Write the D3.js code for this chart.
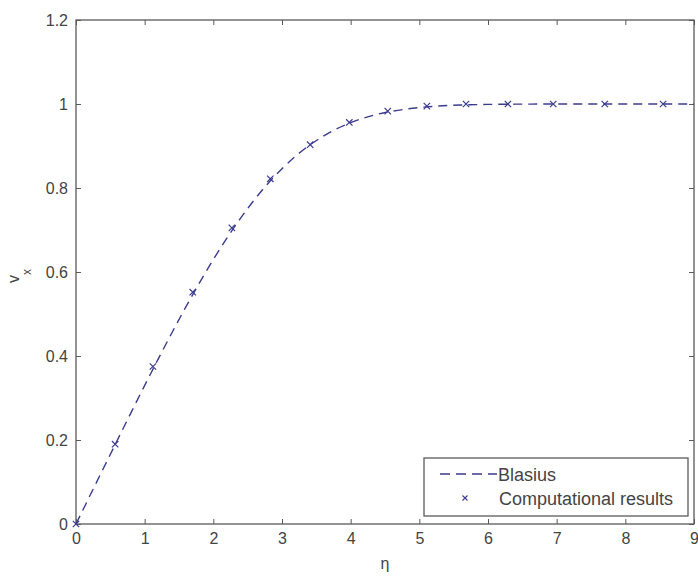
<!DOCTYPE html>
<html><head><meta charset="utf-8">
<script src="https://cdn.jsdelivr.net/npm/d3@7"></script>
<style>body{margin:0;background:#fff}svg{display:block}text{font-family:"Liberation Sans",Arial,sans-serif}</style>
</head><body><svg id="c" width="698" height="577"></svg>
<script>
// Blasius reference profile (eta, f')
const blasiusEta = [0,0.4,0.8,1.2,1.6,2.0,2.4,2.8,3.2,3.6,4.0,4.4,4.8,5.2,5.6,6.0,6.4,6.8,7.2,7.6,8.0,8.4,8.8,9.0];
const blasiusV   = [0,0.1328,0.2647,0.3938,0.5168,0.6298,0.7290,0.8115,0.8761,0.9233,0.9555,0.9759,0.9878,0.9943,0.9975,0.9990,0.9996,0.9999,1.0,1.0,1.0,1.0,1.0,1.0];
// Computational results
const compEta = [0,0.57,1.12,1.70,2.27,2.83,3.41,3.98,4.54,5.11,5.68,6.29,6.95,7.70,8.55];
const compV   = [0,0.19,0.375,0.552,0.705,0.822,0.903,0.956,0.983,0.995,1.0,1.0,1.0,1.0,1.0];
const xTicks = [0,1,2,3,4,5,6,7,8,9];
const yTicks = [0,0.2,0.4,0.6,0.8,1,1.2];

const svg = d3.select("#c");
const L=76,R=694,T=20,B=524;
const x = d3.scaleLinear().domain([0,9]).range([L,R]);
const y = d3.scaleLinear().domain([0,1.2]).range([B,T]);
const frame="#5a5a5a", txt="#444", lineC="#3b3b8f";

const fmt = d=>d3.format("")(+d.toFixed(1));
function styleAx(g){g.select(".domain").remove();g.selectAll("line").attr("stroke",frame);g.selectAll("text").attr("fill",txt).style("font-size","16px");}
svg.append("g").attr("transform",`translate(0,${B})`).call(d3.axisBottom(x).tickValues(xTicks).tickSize(-5).tickPadding(9).tickFormat(fmt)).call(styleAx);
svg.append("g").attr("transform",`translate(0,${T})`).call(d3.axisTop(x).tickValues(xTicks).tickSize(-5).tickFormat("")).call(styleAx);
svg.append("g").attr("transform",`translate(${L},0)`).call(d3.axisLeft(y).tickValues(yTicks).tickSize(-5).tickPadding(8).tickFormat(fmt)).call(styleAx);
svg.append("g").attr("transform",`translate(${R},0)`).call(d3.axisRight(y).tickValues(yTicks).tickSize(-5).tickFormat("")).call(styleAx);
svg.append("rect").attr("x",L).attr("y",T).attr("width",R-L).attr("height",B-T).attr("fill","none").attr("stroke",frame).attr("stroke-width",1.3);

// Blasius line
const bl = blasiusEta.map((e,i)=>[e,blasiusV[i]]);
svg.append("path").datum(bl).attr("fill","none").attr("stroke",lineC).attr("stroke-width",1.4)
  .attr("stroke-dasharray","9,6")
  .attr("d",d3.line().x(d=>x(d[0])).y(d=>y(d[1])).curve(d3.curveMonotoneX));

// markers
const s=3.2;
const mk = svg.append("g").attr("stroke",lineC).attr("stroke-width",1.2);
compEta.forEach((e,i)=>{
  const cx=x(e), cy=y(compV[i]);
  mk.append("path").attr("d",`M${cx-s},${cy-s}L${cx+s},${cy+s}M${cx-s},${cy+s}L${cx+s},${cy-s}`);
});

// axis labels
svg.append("text").attr("x",385).attr("y",569).attr("text-anchor","middle").attr("fill",txt).style("font-size","16px").text("η");
const yl = svg.append("text").attr("transform","translate(19,276) rotate(-90)").attr("text-anchor","middle").attr("fill",txt).style("font-size","16px");
yl.append("tspan").text("v");
yl.append("tspan").attr("dy",12).style("font-size","12px").text("x");

// legend
const lg = svg.append("g");
lg.append("rect").attr("x",424).attr("y",458).attr("width",264).attr("height",58).attr("fill","#fff").attr("stroke",frame).attr("stroke-width",1.3);
lg.append("line").attr("x1",440).attr("x2",497).attr("y1",474).attr("y2",474).attr("stroke",lineC).attr("stroke-width",1.4).attr("stroke-dasharray","10,6");
const lx=465, ly=498;
lg.append("path").attr("d",`M${lx-2.5},${ly-2.5}L${lx+2.5},${ly+2.5}M${lx-2.5},${ly+2.5}L${lx+2.5},${ly-2.5}`).attr("stroke",lineC).attr("stroke-width",1.1);
lg.append("text").attr("x",498).attr("y",481).attr("fill",txt).style("font-size","18px").text("Blasius");
lg.append("text").attr("x",499).attr("y",505).attr("fill",txt).style("font-size","18px").text("Computational results");
</script></body></html>
